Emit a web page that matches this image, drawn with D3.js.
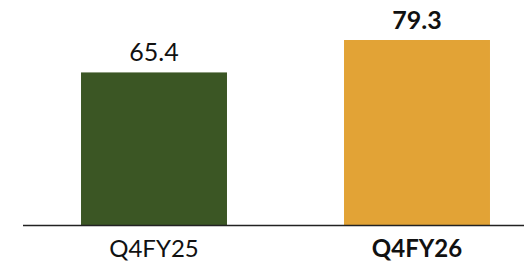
<!DOCTYPE html>
<html>
<head>
<meta charset="utf-8">
<script src="https://cdn.jsdelivr.net/npm/d3@7"></script>
<style>
  html, body { margin: 0; padding: 0; background: #fff; }
  svg { display: block; }
</style>
</head>
<body>
<svg id="chart" width="524" height="262"></svg>
<script>
const categories = ["Q4FY25", "Q4FY26"];
const values = [65.4, 79.3];
const valueLabels = ["65.4", "79.3"];
const colors = ["#3B5624", "#E2A336"];
const bold = [false, true];

const W = 524, H = 262;
const svg = d3.select("#chart");
const font = "Lato, 'Open Sans', sans-serif";

const x = d3.scaleBand()
  .domain(categories)
  .range([22.5, 548.5])
  .paddingInner(0.445)
  .paddingOuter(0.2225);

const y = d3.scaleLinear()
  .domain([0, 79.3])
  .range([225, 40]);

svg.selectAll("rect.bar")
  .data(categories)
  .join("rect")
  .attr("class", "bar")
  .attr("x", d => x(d))
  .attr("width", x.bandwidth())
  .attr("y", (d, i) => y(values[i]))
  .attr("height", (d, i) => y(0) - y(values[i]))
  .attr("fill", (d, i) => colors[i]);

// baseline axis
const axis = d3.axisBottom(x).tickSize(0).tickPadding(15);
const g = svg.append("g").attr("transform", `translate(0,${y(0)})`).call(axis);
g.select(".domain").remove();
g.append("line")
  .attr("x1", 23).attr("x2", W)
  .attr("y1", 0.5).attr("y2", 0.5)
  .attr("stroke", "#222").attr("stroke-width", 1.5);
g.selectAll(".tick text")
  .attr("font-family", font)
  .attr("font-size", 24)
  .attr("fill", "#111")
  .attr("font-weight", (d, i) => bold[i] ? "bold" : "normal");

svg.selectAll("text.val")
  .data(categories)
  .join("text")
  .attr("class", "val")
  .attr("x", d => x(d) + x.bandwidth() / 2)
  .attr("y", (d, i) => y(values[i]) - 11)
  .attr("text-anchor", "middle")
  .attr("font-family", font)
  .attr("font-size", 25)
  .attr("fill", "#111")
  .attr("font-weight", (d, i) => bold[i] ? "bold" : "normal")
  .text((d, i) => valueLabels[i]);
</script>
</body>
</html>
